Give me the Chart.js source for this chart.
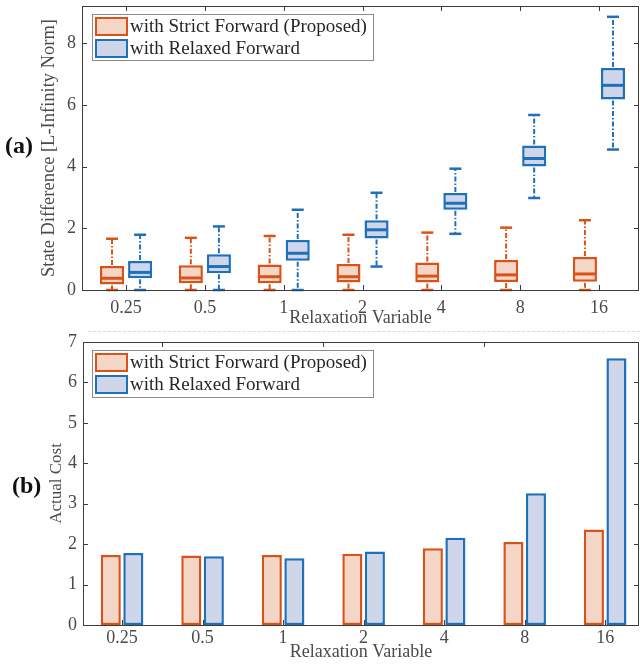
<!DOCTYPE html>
<html>
<head>
<meta charset="utf-8">
<script src="https://cdn.jsdelivr.net/npm/chart.js@4"></script>
<style>
  body { margin: 0; background: #fff; }
  .panel { position: absolute; left: 0; }
</style>
</head>
<body>
<div class="panel" style="top:0"><canvas id="diffChart" width="640" height="330"></canvas></div>
<div style="position:absolute;left:88px;top:331px;width:552px;border-top:1.5px dashed #d9d9d9"></div>
<div class="panel" style="top:330px"><canvas id="costChart" width="640" height="336"></canvas></div>
<script>
// relaxation variable values on the x axis
const labels = ['0.25', '0.5', '1', '2', '4', '8', '16'];

// box statistics: state difference (L-infinity norm)
const strictMin = [0, 0, 0, 0, 0, 0, 0];
const strictQ1 = [0.18, 0.22, 0.22, 0.24, 0.24, 0.26, 0.27];
const strictMed = [0.38, 0.39, 0.43, 0.43, 0.45, 0.49, 0.52];
const strictQ3 = [0.78, 0.80, 0.83, 0.84, 0.89, 0.97, 1.07];
const strictMax = [1.66, 1.69, 1.75, 1.79, 1.86, 2.02, 2.26];

const relaxedMin = [0, 0, 0, 0.76, 1.82, 2.98, 4.55];
const relaxedQ1 = [0.38, 0.54, 0.95, 1.67, 2.60, 4.00, 6.17];
const relaxedMed = [0.57, 0.76, 1.19, 1.95, 2.81, 4.26, 6.63];
const relaxedQ3 = [0.94, 1.16, 1.62, 2.26, 3.14, 4.68, 7.19];
const relaxedMax = [1.79, 2.06, 2.60, 3.15, 3.93, 5.67, 8.85];

// actual cost
const strictCost = [1.73, 1.72, 1.73, 1.76, 1.90, 2.05, 2.36];
const relaxedCost = [1.78, 1.70, 1.65, 1.82, 2.16, 3.26, 6.60];

const diffTicks = [0, 2, 4, 6, 8];
const costTicks = [0, 1, 2, 3, 4, 5, 6, 7];

const strictName = 'with Strict Forward (Proposed)';
const relaxedName = 'with Relaxed Forward';
const orange = '#D95319', orangeFill = '#F3D6C6';
const blue = '#1F70B8', blueFill = '#CFD6E9';
const axisGrey = '#4a4a4a';

Chart.defaults.font.family = "'Liberation Serif', 'Times New Roman', serif";
Chart.defaults.color = axisGrey;

const toPoints = (vals) => vals.map((v, i) => ({ x: i + 1, y: v }));
const toRanges = (lo, hi) => lo.map((v, i) => ({ x: i + 1, y: [v, hi[i]] }));

function line(ctx, x1, y1, x2, y2) {
  ctx.beginPath(); ctx.moveTo(x1, y1); ctx.lineTo(x2, y2); ctx.stroke();
}

// whiskers, caps and medians on top of the floating-bar boxes
const boxPlot = {
  id: 'boxPlot',
  afterDatasetsDraw(chart, args, opts) {
    if (!opts.stats) return;
    const ctx = chart.ctx, y = chart.scales.y;
    opts.stats.forEach((s, di) => {
      chart.getDatasetMeta(di).data.forEach((bar, i) => {
        const x = bar.x, half = bar.width / 2;
        const pMin = y.getPixelForValue(s.min[i]);
        const pQ1 = y.getPixelForValue(s.q1[i]);
        const pMed = y.getPixelForValue(s.med[i]);
        const pQ3 = y.getPixelForValue(s.q3[i]);
        const pMax = y.getPixelForValue(s.max[i]);
        ctx.save();
        ctx.strokeStyle = s.color;
        ctx.lineWidth = 2;
        ctx.setLineDash([5, 2, 1.5, 2]);
        line(ctx, x, pQ3 - 1, x, pMax);
        line(ctx, x, pQ1 + 1, x, pMin);
        ctx.setLineDash([]);
        ctx.lineWidth = 2.5;
        line(ctx, x - 6, pMax, x + 6, pMax);
        line(ctx, x - 6, pMin, x + 6, pMin);
        ctx.lineWidth = 3;
        line(ctx, x - half + 1, pMed, x + half - 1, pMed);
        ctx.restore();
      });
    });
  }
};

// axes box with inward ticks, legend and panel tag
const frame = {
  id: 'frame',
  afterDraw(chart, args, opts) {
    const ctx = chart.ctx;
    const { left, right, top, bottom } = chart.chartArea;
    const xs = chart.scales.x, ys = chart.scales.y;
    ctx.save();
    ctx.strokeStyle = '#3c3c3c';
    ctx.lineWidth = 1;
    ctx.strokeRect(left + 0.5, top + 0.5, right - left - 1, bottom - top);
    ys.ticks.forEach(t => {
      const p = Math.round(ys.getPixelForValue(t.value)) + 0.5;
      line(ctx, left, p, left + 5, p);
      line(ctx, right, p, right - 5, p);
    });
    xs.ticks.forEach(t => {
      const p = Math.round(xs.getPixelForValue(t.value)) + 0.5;
      line(ctx, p, bottom, p, bottom - 5);
    });
    opts.topTicks.forEach(v => {
      const p = Math.round(xs.getPixelForValue(v)) + 0.5;
      line(ctx, p, top, p, top + 5);
    });

    // legend
    const lg = opts.legend;
    ctx.fillStyle = '#fff';
    ctx.fillRect(lg.x, lg.y, lg.w, lg.h);
    ctx.strokeStyle = '#8a8a8a';
    ctx.strokeRect(lg.x + 0.5, lg.y + 0.5, lg.w, lg.h);
    ctx.font = "19px 'Liberation Serif'";
    ctx.textBaseline = 'middle';
    chart.data.datasets.forEach((ds, i) => {
      const sy = lg.y + 4 + i * 22;
      ctx.fillStyle = ds.backgroundColor;
      ctx.fillRect(lg.x + 4, sy, 31, 17);
      ctx.strokeStyle = ds.borderColor;
      ctx.lineWidth = 2;
      ctx.strokeRect(lg.x + 4, sy, 31, 17);
      ctx.fillStyle = '#262626';
      ctx.fillText(ds.label, lg.x + 38, sy + 9);
    });

    ctx.font = "bold 24px 'Liberation Serif'";
    ctx.fillStyle = '#111';
    ctx.textAlign = 'left';
    ctx.fillText(opts.tag.text, opts.tag.x, opts.tag.y);
    ctx.restore();
  }
};

function xScale(min, max, titlePad, labelPad, height) {
  return {
    type: 'linear', min: min, max: max, offset: false,
    grid: { display: false, drawTicks: false },
    border: { display: false },
    afterBuildTicks: (s) => { s.ticks = labels.map((_, i) => ({ value: i + 1 })); },
    afterFit: (s) => { s.height = height; s.paddingLeft = 0; s.paddingRight = 0; },
    ticks: {
      autoSkip: false, maxRotation: 0, padding: labelPad,
      font: { size: 18 }, color: axisGrey,
      callback: (v) => labels[v - 1]
    },
    title: {
      display: true, text: 'Relaxation Variable', color: axisGrey,
      font: { size: 18 }, padding: { top: 0, bottom: titlePad }
    }
  };
}

function yScale(max, tickVals, title, width, titleSize, titlePad) {
  return {
    min: 0, max: max,
    grid: { display: false, drawTicks: false },
    border: { display: false },
    afterBuildTicks: (s) => { s.ticks = tickVals.map(v => ({ value: v })); },
    afterFit: (s) => { s.width = width; s.paddingTop = 0; s.paddingBottom = 0; },
    ticks: { padding: 6, font: { size: 18 }, color: axisGrey },
    title: {
      display: true, text: title, color: axisGrey,
      font: { size: titleSize }, padding: { top: titlePad, bottom: 0 }
    }
  };
}

new Chart(document.getElementById('diffChart'), {
  type: 'bar',
  data: {
    datasets: [{
      label: strictName,
      data: toRanges(strictQ1, strictQ3),
      backgroundColor: orangeFill, borderColor: orange,
      borderWidth: 2.5, borderSkipped: false,
      categoryPercentage: 0.712, barPercentage: 0.857
    }, {
      label: relaxedName,
      data: toRanges(relaxedQ1, relaxedQ3),
      backgroundColor: blueFill, borderColor: blue,
      borderWidth: 2.5, borderSkipped: false,
      categoryPercentage: 0.712, barPercentage: 0.857
    }]
  },
  options: {
    responsive: false, animation: false,
    layout: { padding: { top: 6, right: 1, left: 0, bottom: 0 } },
    scales: {
      x: xScale(0.441, 7.508, 1, 7, 40),
      y: yScale(9.2, diffTicks, 'State Difference [L-Infinity Norm]', 82, 18.5, 38)
    },
    plugins: {
      legend: { display: false },
      tooltip: { enabled: false },
      boxPlot: {
        stats: [
          { min: strictMin, q1: strictQ1, med: strictMed, q3: strictQ3, max: strictMax, color: orange },
          { min: relaxedMin, q1: relaxedQ1, med: relaxedMed, q3: relaxedQ3, max: relaxedMax, color: blue }
        ]
      },
      frame: {
        topTicks: [1, 2, 3, 4, 5, 6, 7],
        legend: { x: 92, y: 14, w: 281, h: 46 },
        tag: { text: '(a)', x: 5, y: 147 }
      }
    }
  },
  plugins: [boxPlot, frame]
});

new Chart(document.getElementById('costChart'), {
  type: 'bar',
  data: {
    datasets: [{
      label: strictName,
      data: toPoints(strictCost),
      backgroundColor: orangeFill, borderColor: orange,
      borderWidth: 2.5, borderSkipped: false,
      categoryPercentage: 0.56, barPercentage: 0.89
    }, {
      label: relaxedName,
      data: toPoints(relaxedCost),
      backgroundColor: blueFill, borderColor: blue,
      borderWidth: 2.5, borderSkipped: false,
      categoryPercentage: 0.56, barPercentage: 0.89
    }]
  },
  options: {
    responsive: false, animation: false,
    layout: { padding: { top: 12, right: 1, left: 0, bottom: 0 } },
    scales: {
      x: xScale(0.515, 7.42, 3, 2, 41),
      y: yScale(7, costTicks, 'Actual Cost', 83, 17, 46)
    },
    plugins: {
      legend: { display: false },
      tooltip: { enabled: false },
      frame: {
        topTicks: [1.5, 3.5, 5.5],
        legend: { x: 92, y: 20, w: 281, h: 47 },
        tag: { text: '(b)', x: 12, y: 157 }
      }
    }
  },
  plugins: [frame]
});
</script>
</body>
</html>
